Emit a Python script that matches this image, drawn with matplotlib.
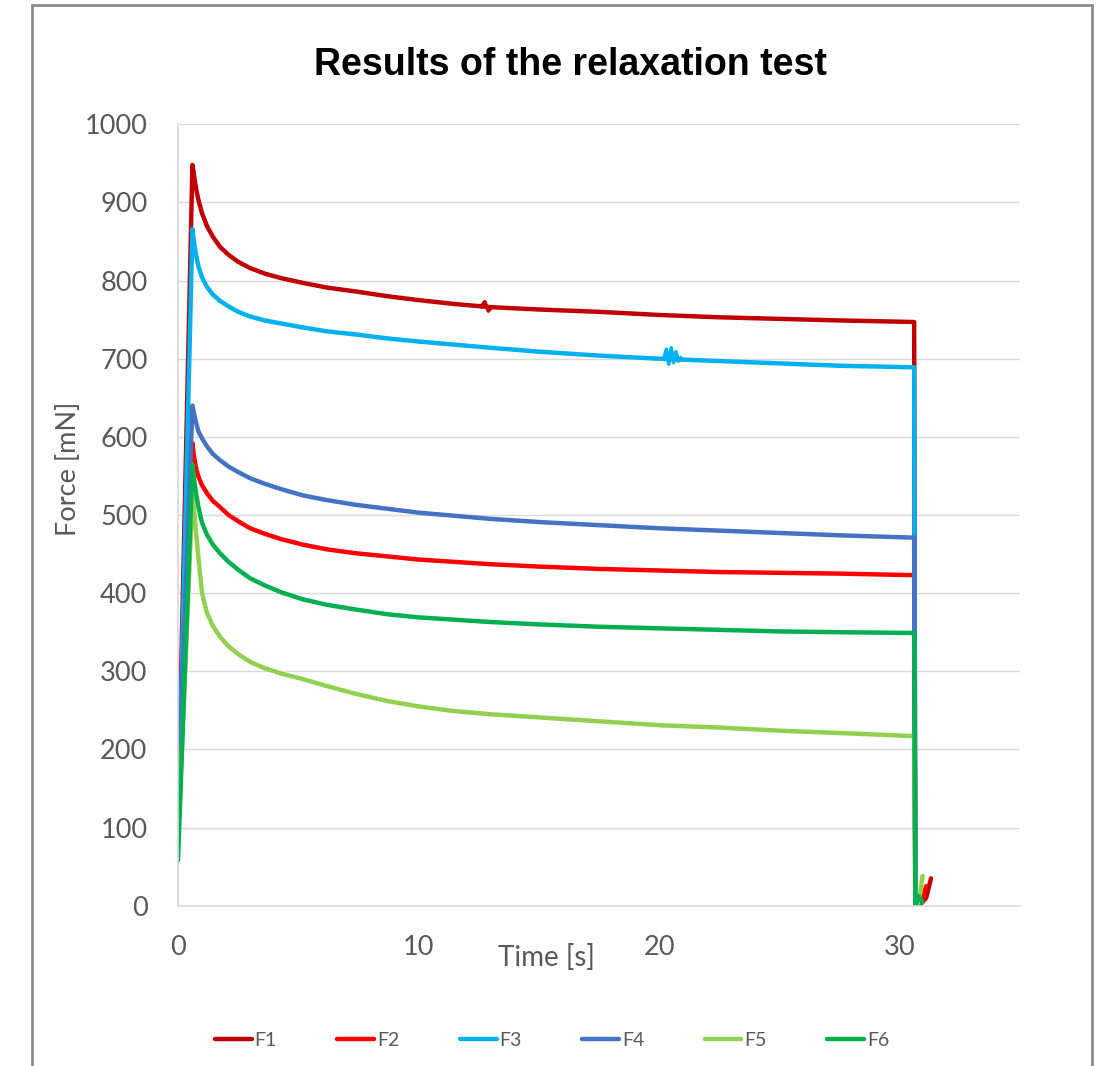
import numpy as np
import matplotlib.pyplot as plt
from matplotlib.patches import Rectangle

# --- values ---
series_names = ["F1", "F2", "F3", "F4", "F5", "F6"]
series_colors = ["#C00000", "#FF0000", "#00B0F0", "#4472C4", "#92D050", "#00B050"]

# time points of the loading + relaxation phase [s]
time_s = [0.0, 0.6, 0.65, 0.75, 0.85, 1.0, 1.2, 1.45, 1.75, 2.1, 2.5, 3.0, 3.6,
          4.3, 5.2, 6.2, 7.4, 8.7, 10.0, 11.5, 13.0, 15.0, 17.5, 20.0, 22.5,
          25.0, 27.5, 30.6]

f1 = [120, 948, 938, 918, 903, 886, 870, 856, 843, 833, 824, 816, 809,
      803, 797, 791, 786, 780, 775, 770, 766, 763, 760, 756, 753, 751, 749, 747]
f2 = [150, 592, 578, 560, 549, 538, 528, 518, 510, 500, 492, 483, 476,
      469, 462, 456, 451, 447, 443, 440, 437, 434, 431, 429, 427, 426, 425, 423]
f3 = [100, 866, 852, 833, 818, 804, 792, 782, 774, 767, 760, 754, 749,
      745, 740, 735, 731, 726, 722, 718, 714, 709, 704, 700, 697, 694, 691, 689]
f4 = [130, 640, 632, 618, 607, 598, 588, 578, 570, 562, 555, 547, 540,
      533, 525, 519, 513, 508, 503, 499, 495, 491, 487, 483, 480, 477, 474, 471]
f5 = [80, 525, 510, 478, 445, 400, 375, 358, 344, 332, 322, 312, 304,
      297, 290, 281, 271, 262, 255, 249, 245, 241, 236, 231, 228, 224, 221, 217]
f6 = [58, 565, 550, 528, 510, 490, 475, 462, 451, 440, 430, 419, 410,
      401, 392, 385, 379, 373, 369, 366, 363, 360, 357, 355, 353, 351, 350, 349]

# unloading: drop to zero and small spikes afterwards
tail_t = [30.65, 30.8, 30.95, 31.1, 31.3]
f1_tail = [0, 0, 5, 10, 35]
f2_tail = [0, 0, 8, 25, np.nan]
f3_tail = [0, 0, np.nan, np.nan, np.nan]
f4_tail = [0, 0, np.nan, np.nan, np.nan]
f5_tail = [0, 5, 38, np.nan, np.nan]
f6_tail = [0, 12, 4, np.nan, np.nan]

# small glitches visible on F1 and F3
f1_glitch_t = [12.6, 12.75, 12.9, 13.05]
f1_glitch_v = [767, 773, 761, 766]
f3_glitch_t = [20.2, 20.3, 20.4, 20.5, 20.6, 20.7, 20.8, 20.9]
f3_glitch_v = [701, 712, 693, 714, 695, 709, 697, 701]

series = [f1, f2, f3, f4, f5, f6]
tails = [f1_tail, f2_tail, f3_tail, f4_tail, f5_tail, f6_tail]

fig = plt.figure(figsize=(10.97, 10.66), dpi=100, facecolor="white")
ax = fig.add_axes([178 / 1097, 1 - 905.7 / 1066, 842 / 1097, 781.4 / 1066])

label_font = "Lato"
gray = "#595959"

for name, col, vals, tail in zip(series_names, series_colors, series, tails):
    t = list(time_s) + tail_t
    v = list(vals) + tail
    ax.plot(t, v, color=col, lw=3.2, label=name,
            solid_joinstyle="round", solid_capstyle="round")

ax.plot(f1_glitch_t, f1_glitch_v, color=series_colors[0], lw=2.6)
ax.plot(f3_glitch_t, f3_glitch_v, color=series_colors[2], lw=2.6)

ax.set_xlim(0, 35)
ax.set_ylim(0, 1000)
ax.set_xticks([0, 10, 20, 30])
ax.set_yticks(np.arange(0, 1001, 100))
ax.grid(axis="y", color="#d9d9d9", lw=1)
ax.set_axisbelow(True)
for s in ["top", "right"]:
    ax.spines[s].set_visible(False)
for s in ["left", "bottom"]:
    ax.spines[s].set_color("#d9d9d9")
    ax.spines[s].set_linewidth(1.2)
ax.tick_params(length=0, labelcolor=gray, labelsize=19.5)
ax.tick_params(axis="y", pad=22)
ax.tick_params(axis="x", pad=21)
for lab in ax.get_xticklabels() + ax.get_yticklabels():
    lab.set_fontfamily(label_font)

fig.text(570 / 1097, 1 - 65 / 1066, "Results of the relaxation test",
         ha="center", va="center", fontsize=27, fontweight="bold",
         family="Liberation Sans", color="black")
fig.text(68 / 1097, 1 - 469 / 1066, "Force [mN]", rotation=90,
         ha="center", va="center", fontsize=19.5, family=label_font, color=gray)
fig.text(546 / 1097, 1 - 958 / 1066, "Time [s]", ha="center", va="center",
         fontsize=20, family=label_font, color=gray)

leg = fig.legend(loc="center", bbox_to_anchor=(552 / 1097, 1 - 1040 / 1066),
                 ncol=6, frameon=False, handlelength=1.9,
                 handletextpad=0.15, columnspacing=3.1,
                 prop={"family": label_font, "size": 14})
for txt in leg.get_texts():
    txt.set_color(gray)

# outer chart border
fig.patches.append(Rectangle((32 / 1097, -0.02), 1060 / 1097, 1 - 5 / 1066 + 0.02,
                             transform=fig.transFigure, fill=False,
                             edgecolor="#8c8c8c", lw=2))

fig.savefig("out.png", dpi=100)
